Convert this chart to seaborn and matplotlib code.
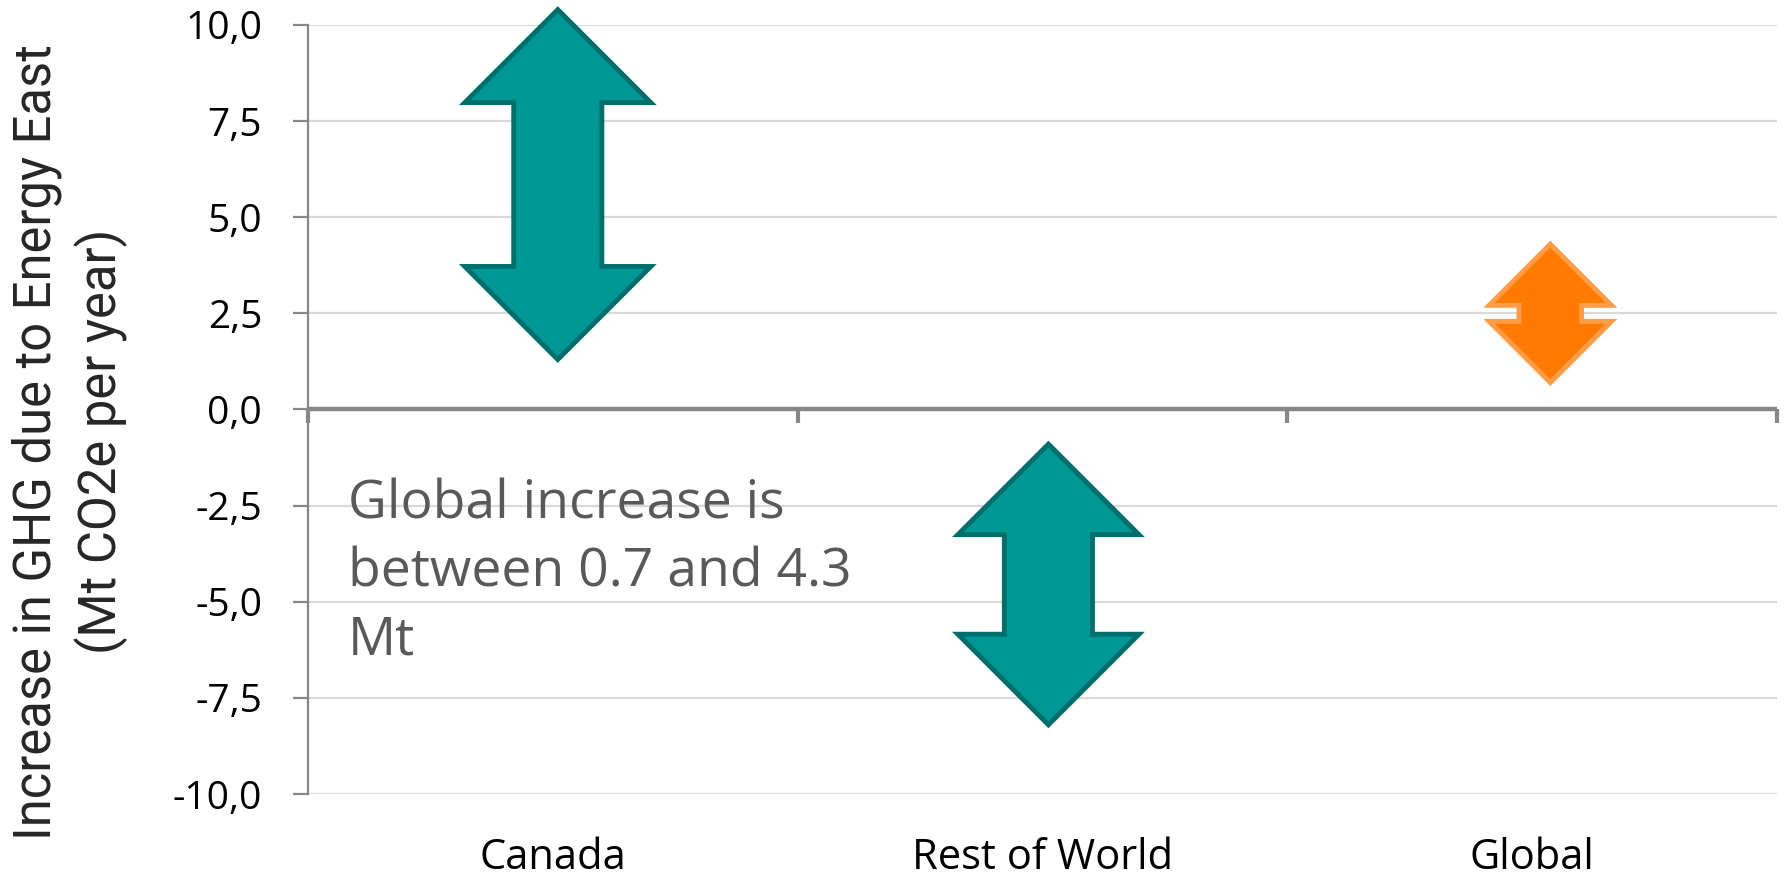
import matplotlib
matplotlib.use("Agg")
import matplotlib.pyplot as plt
from matplotlib.patches import Polygon
from matplotlib.ticker import FixedLocator, FuncFormatter
import seaborn as sns
import pandas as pd

# Range of GHG change per region (Mt CO2e per year)
regions = ["Canada", "Rest of World", "Global"]
range_low = [1.3, -8.2, 0.7]
range_high = [10.4, -0.9, 4.3]
y_ticks = [-10.0, -7.5, -5.0, -2.5, 0.0, 2.5, 5.0, 7.5, 10.0]
note = "Global increase is\nbetween 0.7 and 4.3\nMt"
y_label = "Increase in GHG due to Energy East\n(Mt CO2e per year)"

# Arrow styling: horizontal nudge, head / shaft half-widths in category units, colours
arrow_style = [
    dict(nudge=0.010, head=0.19, shaft=0.090, face="#009894", edge="#006F6C"),
    dict(nudge=0.012, head=0.185, shaft=0.090, face="#009894", edge="#006F6C"),
    dict(nudge=0.037, head=0.125, shaft=0.064, face="#FF7A00", edge="#FF9C45"),
]

sns.set_theme(style="white")
plt.rcParams["font.family"] = ["Open Sans", "DejaVu Sans"]

fig = plt.figure(figsize=(17.89, 8.76), dpi=100)
ax = fig.add_axes([0.1722, 0.0936, 0.8211, 0.8779])

df = pd.DataFrame({
    "region": regions * 2,
    "value": range_low + range_high,
})
sns.stripplot(data=df, x="region", y="value", order=regions, jitter=False,
              size=0, ax=ax)

ax.set_xlim(-0.5, 2.5)
ax.set_ylim(-10, 10)

# pixel scale of data units, so arrow heads keep 45-degree edges
p0 = ax.transData.transform((0, 0))
px_x = ax.transData.transform((1, 0))[0] - p0[0]
px_y = ax.transData.transform((0, 1))[1] - p0[1]

for i, (lo, hi, st) in enumerate(zip(range_low, range_high, arrow_style)):
    c = i + st["nudge"]
    hw, sw = st["head"], st["shaft"]
    hl = hw * px_x / px_y
    pts = [
        (c, hi), (c + hw, hi - hl), (c + sw, hi - hl), (c + sw, lo + hl),
        (c + hw, lo + hl), (c, lo), (c - hw, lo + hl), (c - sw, lo + hl),
        (c - sw, hi - hl), (c - hw, hi - hl),
    ]
    ax.add_patch(Polygon(pts, closed=True, facecolor=st["face"],
                         edgecolor=st["edge"], linewidth=3.5,
                         joinstyle="miter", zorder=5, clip_on=False))

# grid, zero line and spines
ax.yaxis.set_major_locator(FixedLocator(y_ticks))
ax.yaxis.set_major_formatter(FuncFormatter(lambda v, _: f"{v:.1f}".replace(".", ",")))
ax.grid(axis="y", color="#D9D9D9", linewidth=1.6, zorder=0)
ax.set_axisbelow(True)
ax.axhline(0, color="#878787", linewidth=3.2, zorder=3)
ax.vlines([-0.5, 0.5, 1.5, 2.5], -0.36, 0, color="#878787", linewidth=3.0,
          zorder=3, clip_on=False)

for s in ["top", "right", "bottom"]:
    ax.spines[s].set_visible(False)
ax.spines["left"].set_color("#878787")
ax.spines["left"].set_linewidth(1.6)

ax.tick_params(axis="y", which="major", length=11, width=1.6, color="#878787",
               pad=22, labelsize=28, labelcolor="black", left=True)
ax.tick_params(axis="x", length=0, pad=31, labelsize=30, labelcolor="black")

ax.set_xlabel("")
ax.set_ylabel(y_label, family=["Roboto", "DejaVu Sans"], fontsize=36.5,
              linespacing=1.3, va="center", ha="center")
ax.yaxis.set_label_coords(-0.162, 0.458)

ax.text(-0.418, -1.79, note, ha="left", va="top", fontsize=38.5,
        color="#595959", linespacing=1.36, zorder=6)

fig.savefig("out.png", dpi=100)
